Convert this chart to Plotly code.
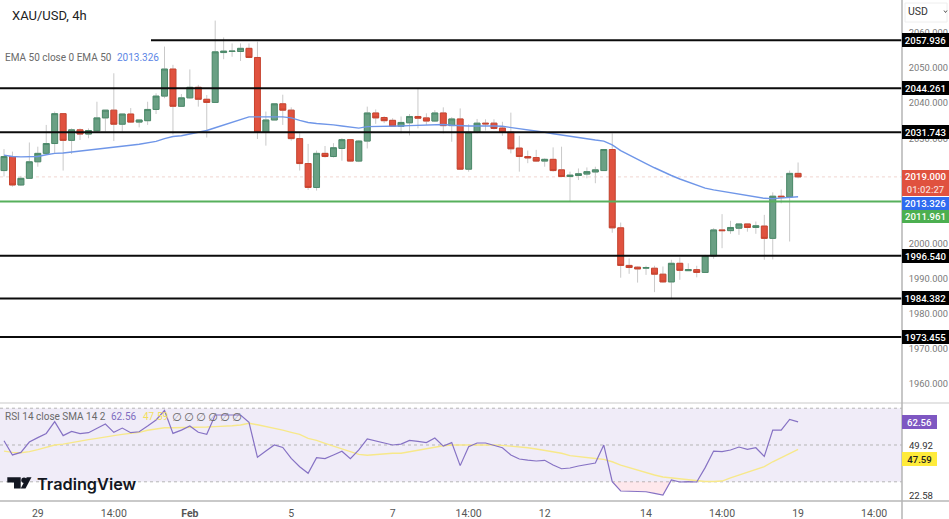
import numpy as np
import plotly.graph_objects as go

W = 949
H = 519

opens = [2020.8, 2024.8, 2016.7, 2018.6, 2023.3, 2025.7, 2028.5, 2037.0, 2029.4, 2032.4,
         2031.2, 2032.1, 2035.8, 2038.0, 2034.0, 2036.9, 2034.6, 2035.0, 2038.2, 2042.0,
         2049.7, 2039.1, 2041.5, 2044.5, 2041.1, 2040.2, 2054.4, 2054.7, 2054.7, 2055.6,
         2053.0, 2031.7, 2035.2, 2039.8, 2038.0, 2029.9, 2022.8, 2016.0, 2025.7, 2024.8,
         2027.1, 2029.6, 2023.5, 2029.2, 2037.2, 2035.9, 2035.1, 2033.4, 2034.4, 2036.2,
         2035.8, 2034.9, 2037.2, 2033.6, 2035.5, 2021.2, 2031.7, 2034.3, 2034.3, 2032.9,
         2031.7, 2027.2, 2024.8, 2024.5, 2023.5, 2024.0, 2021.0, 2019.1, 2019.4, 2019.8,
         2020.4, 2020.8, 2026.8, 2004.5, 1993.8, 1993.3, 1993.0, 1993.0, 1991.3, 1989.1,
         1994.4, 1992.3, 1992.6, 1991.8, 1996.5, 2003.9, 2003.7, 2004.4, 2005.6, 2004.6,
         2005.0, 2001.5, 2013.5, 2013.3, 2020.0]
highs = [2026.9, 2026.2, 2019.3, 2028.8, 2027.6, 2033.8, 2037.6, 2037.0, 2032.8, 2032.8,
         2032.8, 2040.4, 2038.0, 2048.5, 2036.9, 2038.6, 2035.2, 2040.4, 2042.8, 2056.1,
         2050.9, 2042.6, 2049.6, 2045.2, 2042.3, 2063.5, 2058.7, 2057.0, 2057.0, 2057.0,
         2057.5, 2037.6, 2039.8, 2042.4, 2038.8, 2031.4, 2028.4, 2026.5, 2027.8, 2028.6,
         2030.0, 2029.6, 2029.5, 2039.0, 2038.2, 2036.3, 2035.7, 2036.2, 2036.9, 2044.0,
         2037.1, 2038.0, 2038.8, 2036.0, 2038.5, 2034.0, 2035.5, 2035.4, 2035.4, 2034.7,
         2037.3, 2030.7, 2026.5, 2026.7, 2024.3, 2027.4, 2027.6, 2020.5, 2021.4, 2021.7,
         2021.9, 2026.8, 2031.4, 2006.0, 1995.8, 1993.5, 1993.7, 1993.7, 1993.5, 1995.4,
         1996.1, 1994.4, 1993.7, 1996.8, 2004.4, 2008.4, 2006.5, 2005.6, 2005.6, 2006.3,
         2008.2, 2014.6, 2015.4, 2020.8, 2023.1]
lows = [2019.1, 2016.2, 2016.4, 2018.6, 2021.9, 2025.6, 2025.7, 2020.8, 2025.5, 2029.5,
        2030.0, 2031.6, 2031.9, 2029.2, 2031.9, 2034.4, 2033.1, 2033.8, 2036.9, 2041.4,
        2031.1, 2039.0, 2041.3, 2039.0, 2030.2, 2040.2, 2052.5, 2053.2, 2052.0, 2052.8,
        2029.8, 2027.9, 2035.2, 2033.8, 2029.3, 2020.8, 2015.3, 2015.1, 2024.5, 2024.5,
        2023.6, 2023.3, 2023.2, 2027.1, 2034.1, 2034.3, 2033.3, 2031.4, 2030.8, 2032.8,
        2033.8, 2034.7, 2031.4, 2029.0, 2021.0, 2020.5, 2031.4, 2032.2, 2032.5, 2030.7,
        2025.7, 2020.5, 2022.9, 2023.3, 2021.9, 2020.5, 2018.9, 2012.0, 2018.1, 2018.6,
        2017.2, 2020.8, 2003.1, 1990.3, 1991.4, 1988.9, 1991.1, 1986.2, 1988.9, 1984.5,
        1989.7, 1992.2, 1990.4, 1991.7, 1995.7, 1998.7, 2002.8, 2002.5, 2003.4, 2002.8,
        1995.4, 1995.5, 2011.5, 2000.6, 2018.6]
closes = [2024.8, 2016.7, 2018.6, 2023.3, 2025.7, 2028.5, 2037.0, 2029.4, 2032.4, 2031.2,
          2032.2, 2035.8, 2038.0, 2034.0, 2036.9, 2034.6, 2035.2, 2038.2, 2042.0, 2049.7,
          2039.1, 2041.5, 2044.5, 2041.1, 2040.2, 2054.6, 2054.8, 2054.8, 2055.6, 2053.0,
          2031.7, 2035.2, 2039.8, 2038.0, 2029.9, 2022.8, 2016.0, 2025.7, 2024.8, 2027.3,
          2029.6, 2023.5, 2029.2, 2037.2, 2035.8, 2035.0, 2033.4, 2034.5, 2036.2, 2035.7,
          2034.9, 2037.2, 2033.6, 2035.5, 2021.2, 2031.7, 2034.3, 2034.1, 2032.8, 2031.7,
          2027.0, 2024.8, 2024.4, 2023.5, 2024.0, 2020.8, 2019.1, 2019.5, 2019.9, 2020.5,
          2021.0, 2026.8, 2004.5, 1993.8, 1993.2, 1992.8, 1993.2, 1991.3, 1989.1, 1994.4,
          1992.4, 1992.6, 1991.8, 1996.6, 2003.9, 2003.7, 2004.6, 2005.6, 2004.6, 2005.1,
          2001.5, 2013.5, 2013.3, 2020.0, 2019.0]
ema50 = [2025.2, 2024.8, 2024.7, 2024.7, 2024.8, 2025.3, 2025.7, 2025.8, 2026.1, 2026.4,
         2026.6, 2026.8, 2027.2, 2027.5, 2027.8, 2028.0, 2028.3, 2028.7, 2029.1, 2029.9,
         2030.5, 2030.7, 2031.2, 2031.6, 2032.2, 2033.0, 2033.8, 2034.6, 2035.4, 2036.1,
         2036.1, 2036.0, 2036.1, 2036.1, 2035.8, 2035.1, 2034.5, 2034.2, 2034.1, 2033.8,
         2033.5, 2033.1, 2032.9, 2033.3, 2033.3, 2033.3, 2033.4, 2033.5, 2033.6, 2033.7,
         2033.7, 2033.8, 2033.9, 2033.7, 2033.5, 2033.5, 2033.5, 2033.6, 2033.5, 2033.4,
         2033.1, 2032.7, 2032.4, 2032.0, 2031.7, 2031.3, 2030.9, 2030.6, 2030.2, 2029.9,
         2029.5, 2029.2, 2028.1, 2026.5, 2025.2, 2024.0, 2022.8, 2021.6, 2020.4, 2019.4,
         2018.4, 2017.5, 2016.5, 2015.8, 2015.3, 2014.9, 2014.5, 2014.1, 2013.9, 2013.4,
         2012.9, 2012.8, 2013.0, 2013.2, 2013.326]
rsi = [52.3, 44.6, 46.0, 51.6, 54.0, 56.3, 62.7, 55.1, 57.4, 56.2,
       56.7, 59.2, 61.4, 56.9, 59.2, 56.7, 57.2, 60.3, 63.6, 68.8,
       56.3, 58.1, 60.3, 56.9, 55.8, 66.3, 66.3, 66.3, 66.3, 62.3,
       43.3, 46.7, 50.0, 48.7, 42.7, 38.2, 34.6, 43.1, 42.6, 44.6,
       46.6, 42.6, 47.3, 53.3, 52.3, 51.4, 50.0, 50.5, 52.5, 52.0,
       51.3, 53.8, 49.4, 51.3, 38.8, 49.1, 51.1, 51.1, 49.6, 48.5,
       44.6, 42.4, 41.8, 41.3, 41.7, 39.1, 37.1, 37.5, 38.6, 39.5,
       40.2, 50.0, 30.1, 25.0, 25.0, 24.6, 24.6, 23.7, 22.8, 31.0,
       29.9, 30.1, 29.9, 37.7, 46.7, 46.4, 47.3, 48.9, 47.6, 48.5,
       43.8, 58.1, 58.1, 63.9, 62.56]
rsi_sma = [46.7, 46.0, 45.8, 46.4, 47.5, 48.7, 50.0, 50.5, 51.4, 52.3,
           52.9, 53.6, 54.5, 55.1, 55.8, 56.3, 56.9, 58.0, 58.9, 59.4,
           59.4, 59.4, 59.4, 59.6, 59.8, 60.0, 60.1, 60.5, 60.9, 61.8,
           61.0, 60.1, 59.1, 58.1, 56.9, 55.8, 53.6, 52.5, 50.9, 49.4,
           47.8, 46.2, 44.9, 44.4, 44.9, 45.3, 45.5, 45.5, 46.4, 47.3,
           48.2, 49.1, 49.6, 50.0, 50.0, 50.0, 50.4, 50.4, 50.0, 49.8,
           49.4, 49.1, 48.5, 47.8, 47.1, 46.4, 45.5, 44.2, 43.8, 43.5,
           42.7, 42.2, 40.9, 39.1, 37.7, 36.4, 35.0, 33.7, 32.6, 32.1,
           31.5, 31.0, 30.4, 30.2, 30.2, 30.4, 32.1, 33.7, 35.3, 36.8,
           38.2, 40.9, 43.1, 45.3, 47.59]

x_bars = list(range(len(closes)))
tick_pos = [4, 13, 22, 34, 46, 55, 64, 76, 85, 94, 103]
tick_txt = ["29", "14:00", "<b>Feb</b>", "5", "7", "14:00", "12", "14", "14:00", "19", "14:00"]
price_ticks = [1960, 1970, 1980, 1990, 2000, 2030, 2040, 2050, 2060]
black_levels = [2057.936, 2044.261, 2031.743, 1996.540, 1984.382, 1973.455]
green_level = 2011.961
last_price = 2019.000
rsi_levels = [70, 50, 30]
rsi_ticks = [49.92, 22.58]

UP = "#6aa084"
UP_EDGE = "#4c8a6a"
DOWN = "#e0523f"
DOWN_EDGE = "#c9442f"
WICK = "#c9c9c9"
GRAY = "#6a6a6a"
AXIS_W = 902


def px(x):
    return x / W


def py(y):
    return 1 - y / H


def txt(text, x, y, color, size, anchor="left", family="Roboto", weight=None):
    return dict(text=text, xref="paper", yref="paper", x=px(x), y=py(y), xanchor=anchor,
                yanchor="middle", showarrow=False, borderpad=0, borderwidth=0,
                font=dict(family=family, size=size, color=color, weight=weight))


def tag(text, y, bg, color="white", width=47, height=14, yref="paper", size=9.6):
    return dict(text=text, xref="paper", yref=yref, x=px(AXIS_W), y=y, xanchor="left",
                yanchor="middle", showarrow=False, width=width, height=height, bgcolor=bg,
                borderpad=0, borderwidth=0, align="center",
                font=dict(family="Roboto", size=size, color=color, weight=500))


def poly(points, color):
    path = "M " + " L ".join(f"{px(a):.5f} {py(b):.5f}" for a, b in points) + " Z"
    return dict(type="path", xref="paper", yref="paper", path=path,
                fillcolor=color, line=dict(width=0))


body_hi = np.maximum(opens, closes)
body_lo = np.minimum(opens, closes)

fig = go.Figure()

# two candlestick layers, the wicks are a lighter colour than the bodies
fig.add_trace(go.Candlestick(x=x_bars, open=opens, high=highs, low=lows, close=closes,
                             increasing=dict(line=dict(color=WICK, width=1), fillcolor=WICK),
                             decreasing=dict(line=dict(color=WICK, width=1), fillcolor=WICK),
                             showlegend=False))
fig.add_trace(go.Candlestick(x=x_bars, open=opens, high=body_hi, low=body_lo, close=closes,
                             increasing=dict(line=dict(color=UP_EDGE, width=1), fillcolor=UP),
                             decreasing=dict(line=dict(color=DOWN_EDGE, width=1), fillcolor=DOWN),
                             showlegend=False))
fig.add_trace(go.Scatter(x=x_bars, y=ema50, mode="lines", line=dict(color="#6f96e8", width=1.4),
                         showlegend=False))

fig.add_trace(go.Scatter(x=x_bars, y=[30] * len(rsi), yaxis="y2", mode="lines",
                         line=dict(width=0), showlegend=False))
fig.add_trace(go.Scatter(x=x_bars, y=np.minimum(rsi, 30), yaxis="y2", mode="lines",
                         line=dict(width=0), fill="tonexty", fillcolor="rgba(250,130,150,0.18)",
                         showlegend=False))
fig.add_trace(go.Scatter(x=x_bars, y=rsi_sma, yaxis="y2", mode="lines",
                         line=dict(color="#f7e88a", width=1.4), showlegend=False))
fig.add_trace(go.Scatter(x=x_bars, y=rsi, yaxis="y2", mode="lines",
                         line=dict(color="#8672c4", width=1.2), showlegend=False))

shapes = []
# rsi band goes under the lines
shapes.append(dict(type="rect", xref="paper", yref="y2", x0=0, x1=px(AXIS_W), y0=30, y1=70,
                   fillcolor="#f0ecf8", line=dict(width=0), layer="below"))
for lv in rsi_levels:
    shapes.append(dict(type="line", xref="paper", yref="y2", x0=0, x1=px(AXIS_W), y0=lv, y1=lv,
                       line=dict(color="#b5b5b5", width=1, dash="3px,3px"), layer="below"))
shapes.append(dict(type="line", xref="paper", yref="y", x0=0, x1=px(AXIS_W), y0=last_price,
                   y1=last_price, line=dict(color="#f0d5d0", width=1, dash="dot"), layer="below"))

for lv in black_levels:
    x_start = px(151) if lv == black_levels[0] else 0
    shapes.append(dict(type="line", xref="paper", yref="y", x0=x_start, x1=px(AXIS_W), y0=lv, y1=lv,
                       line=dict(color="#0b0b0b", width=2)))
shapes.append(dict(type="line", xref="paper", yref="y", x0=0, x1=px(AXIS_W), y0=green_level,
                   y1=green_level, line=dict(color="#57b05c", width=2)))

# pane separators and the price scale border
for sep_y, sep_col in [(403, "#e4e4e4"), (501, "#c9c9c9")]:
    shapes.append(dict(type="line", xref="paper", yref="paper", x0=0, x1=1, y0=py(sep_y), y1=py(sep_y),
                       line=dict(color=sep_col, width=2)))
shapes.append(dict(type="line", xref="paper", yref="paper", x0=px(AXIS_W), x1=px(AXIS_W), y0=0, y1=1,
                   line=dict(color="#b4b4b4", width=1.5)))

# USD button
shapes.append(dict(type="rect", xref="paper", yref="paper", x0=px(905), x1=px(947), y0=py(22), y1=py(3),
                   fillcolor="white", line=dict(color="#eeeeee", width=1)))
shapes.append(dict(type="path", xref="paper", yref="paper",
                   path=f"M {px(944)} {py(10.5)} L {px(945.5)} {py(12.5)} L {px(947)} {py(10.5)}",
                   line=dict(color="#555555", width=1)))

# TradingView mark
LOGO = "#131722"
shapes.append(poly([(7.3, 477.3), (20.7, 477.3), (20.7, 488.5), (14, 488.5), (14, 482.5), (7.3, 482.5)], LOGO))
shapes.append(poly([(31.5, 477.3), (25.5, 488.5), (20.7, 488.5), (26.7, 477.3)], LOGO))
shapes.append(dict(type="circle", xref="paper", yref="paper", x0=px(21.3), x1=px(26.7), y0=py(483), y1=py(477.6),
                   fillcolor=LOGO, line=dict(width=0)))

annotations = [
    txt("XAU/USD, 4h", 12, 15, "#222222", 13),
    txt("EMA 50 close 0 EMA 50", 4.5, 57, GRAY, 10),
    txt("2013.326", 117, 57, "#5b86e5", 10),
    txt("RSI 14 close SMA 14 2", 4.5, 416.5, GRAY, 10),
    txt("62.56", 111, 416.5, "#7e6cc0", 10),
    txt("47.59", 143, 416.5, "#f2df5e", 10),
    txt("TradingView", 37, 483.5, LOGO, 16.3, family="Inter", weight=600),
    txt("USD", 908, 12, "#333333", 10.5),
]
for k in range(6):
    annotations.append(txt("∅", 176.5 + 12 * k, 416.5, GRAY, 11.5, anchor="center", family="DejaVu Sans"))

for lv in black_levels:
    annotations.append(tag(f"{lv:.3f}", lv, "#000000", yref="y"))
annotations.append(tag(f"{last_price:.3f}<br><span style='font-size:9.5px;color:#f6d7d2'>01:02:27</span>",
                       py(183), DOWN, height=26))
annotations.append(tag(f"{ema50[-1]:.3f}", py(203), "#2f6bf0", height=13))
annotations.append(tag(f"{green_level:.3f}", py(216.5), "#4caf50", height=13))
annotations.append(tag(f"{rsi[-1]:.2f}", py(421.7), "#7e57c2", width=35, height=14))
annotations.append(tag(f"{rsi_sma[-1]:.2f}", py(459), "#ffeb3b", color="#222222", width=35, height=14))

fig.update_layout(
    width=W, height=H, margin=dict(l=0, r=0, t=0, b=0), autosize=False,
    paper_bgcolor="white", plot_bgcolor="white", showlegend=False, boxgap=0.3, boxgroupgap=0,
    font=dict(family="Roboto", color=GRAY),
    xaxis=dict(domain=[0, px(AXIS_W)], range=[-0.474, 106.3], anchor="y2", rangeslider=dict(visible=False),
               automargin=False, tickmode="array", tickvals=tick_pos, ticktext=tick_txt, showgrid=False,
               zeroline=False, showline=False, ticks="outside", ticklen=2, tickcolor="rgba(0,0,0,0)",
               tickfont=dict(family="Roboto", size=10.5, color="#555555"), tickangle=0),
    yaxis=dict(domain=[py(403), 1], range=[1954.63, 2069.36], side="right", anchor="x", showgrid=False,
               automargin=False, zeroline=False, showline=False, tickmode="array", tickvals=price_ticks,
               ticktext=[f"{v:.3f}" for v in price_ticks], ticks="outside", ticklen=4,
               tickcolor="rgba(0,0,0,0)", tickfont=dict(family="Roboto", size=9.3, color="#7a7a7a")),
    yaxis2=dict(domain=[py(501), py(403)], range=[19.57, 72.83], side="right", anchor="x", showgrid=False,
                automargin=False, zeroline=False, showline=False, tickmode="array", tickvals=rsi_ticks,
                ticktext=[f"{v:.2f}" for v in rsi_ticks], ticks="outside", ticklen=4,
                tickcolor="rgba(0,0,0,0)", tickfont=dict(family="Roboto", size=9.6, color="#333333")),
    shapes=shapes, annotations=annotations,
)

fig.write_html("out.html", config=dict(displayModeBar=False),
               post_script="document.documentElement.style.overflow='hidden';document.body.style.margin='0';document.body.style.overflow='hidden';")
